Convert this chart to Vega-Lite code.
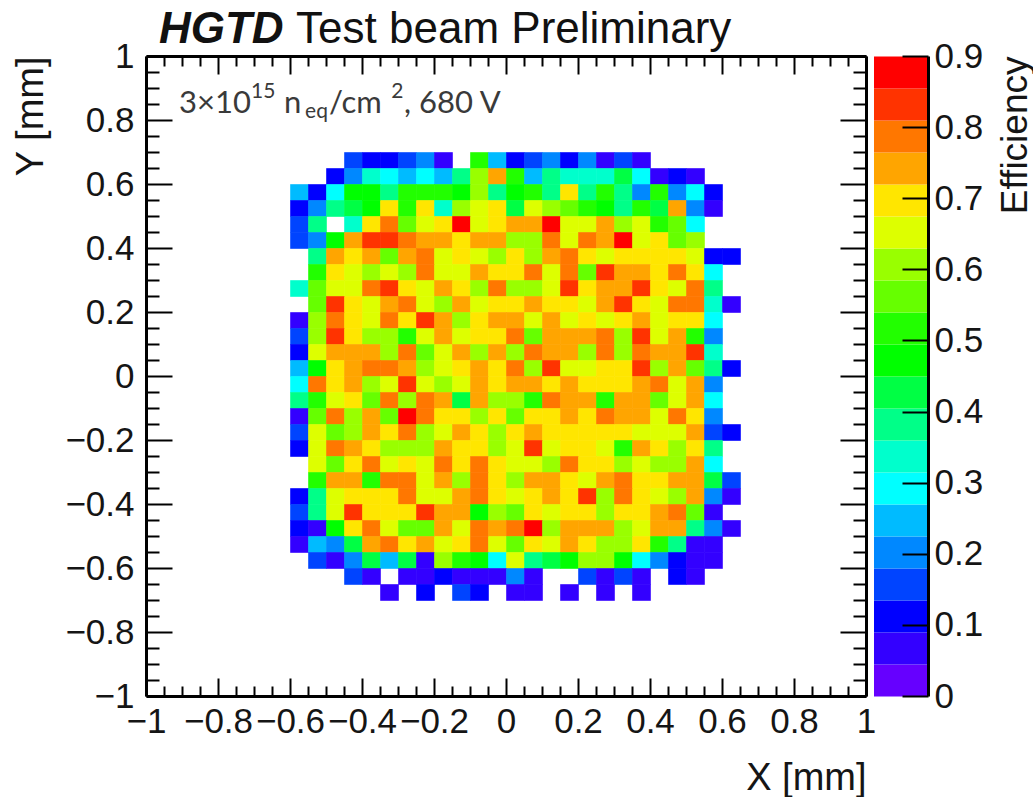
{"$schema":"https://vega.github.io/schema/vega-lite/v6.json","padding":{"left":12,"top":8,"right":0,"bottom":0},"spacing":8,"bounds":"flush","background":"white","config":{"view":{"stroke":null},"axis":{"labelFont":"Liberation Sans","titleFont":"Liberation Sans","labelFontSize":35,"titleFontSize":38,"titleFontWeight":"normal","labelColor":"#151515","titleColor":"#151515","domainColor":"#000","tickColor":"#000","grid":false,"labelOverlap":false,"labelFlush":false,"labelBound":false,"domainWidth":3,"tickWidth":2}},"hconcat":[{"width":720,"height":640,"resolve":{"axis":{"x":"independent","y":"independent"}},"layer":[{"data":{"values":[
{"x":-0.425,"y":0.675,"e":0.16},{"x":-0.375,"y":0.675,"e":0.11},{"x":-0.325,"y":0.675,"e":0.11},{"x":-0.275,"y":0.675,"e":0.16},{"x":-0.225,"y":0.675,"e":0.2},{"x":-0.175,"y":0.675,"e":0.07},{"x":-0.075,"y":0.675,"e":0.52},{"x":-0.025,"y":0.675,"e":0.25},{"x":0.025,"y":0.675,"e":0.11},{"x":0.075,"y":0.675,"e":0.16},{"x":0.125,"y":0.675,"e":0.2},{"x":0.175,"y":0.675,"e":0.11},{"x":0.225,"y":0.675,"e":0.2},{"x":0.275,"y":0.675,"e":0.07},{"x":0.325,"y":0.675,"e":0.16},{"x":0.375,"y":0.675,"e":0.07},
{"x":-0.475,"y":0.625,"e":0.11},{"x":-0.425,"y":0.625,"e":0.2},{"x":-0.375,"y":0.625,"e":0.34},{"x":-0.325,"y":0.625,"e":0.29},{"x":-0.275,"y":0.625,"e":0.25},{"x":-0.225,"y":0.625,"e":0.29},{"x":-0.175,"y":0.625,"e":0.25},{"x":-0.125,"y":0.625,"e":0.38},{"x":-0.075,"y":0.625,"e":0.61},{"x":-0.025,"y":0.625,"e":0.74},{"x":0.025,"y":0.625,"e":0.52},{"x":0.075,"y":0.625,"e":0.25},{"x":0.125,"y":0.625,"e":0.38},{"x":0.175,"y":0.625,"e":0.34},{"x":0.225,"y":0.625,"e":0.34},{"x":0.275,"y":0.625,"e":0.34},{"x":0.325,"y":0.625,"e":0.43},{"x":0.375,"y":0.625,"e":0.29},{"x":0.425,"y":0.625,"e":0.07},{"x":0.475,"y":0.625,"e":0.11},{"x":0.525,"y":0.625,"e":0.07},
{"x":-0.575,"y":0.575,"e":0.25},{"x":-0.525,"y":0.575,"e":0.11},{"x":-0.475,"y":0.575,"e":0.29},{"x":-0.425,"y":0.575,"e":0.47},{"x":-0.375,"y":0.575,"e":0.47},{"x":-0.325,"y":0.575,"e":0.38},{"x":-0.275,"y":0.575,"e":0.52},{"x":-0.225,"y":0.575,"e":0.52},{"x":-0.175,"y":0.575,"e":0.52},{"x":-0.125,"y":0.575,"e":0.47},{"x":-0.075,"y":0.575,"e":0.61},{"x":-0.025,"y":0.575,"e":0.38},{"x":0.025,"y":0.575,"e":0.47},{"x":0.075,"y":0.575,"e":0.52},{"x":0.125,"y":0.575,"e":0.38},{"x":0.175,"y":0.575,"e":0.7},{"x":0.225,"y":0.575,"e":0.38},{"x":0.275,"y":0.575,"e":0.52},{"x":0.325,"y":0.575,"e":0.38},{"x":0.375,"y":0.575,"e":0.2},{"x":0.425,"y":0.575,"e":0.52},{"x":0.475,"y":0.575,"e":0.2},{"x":0.525,"y":0.575,"e":0.29},{"x":0.575,"y":0.575,"e":0.11},
{"x":-0.575,"y":0.525,"e":0.11},{"x":-0.525,"y":0.525,"e":0.2},{"x":-0.475,"y":0.525,"e":0.38},{"x":-0.425,"y":0.525,"e":0.43},{"x":-0.375,"y":0.525,"e":0.47},{"x":-0.325,"y":0.525,"e":0.7},{"x":-0.275,"y":0.525,"e":0.52},{"x":-0.225,"y":0.525,"e":0.7},{"x":-0.175,"y":0.525,"e":0.34},{"x":-0.125,"y":0.525,"e":0.61},{"x":-0.075,"y":0.525,"e":0.65},{"x":-0.025,"y":0.525,"e":0.7},{"x":0.025,"y":0.525,"e":0.43},{"x":0.075,"y":0.525,"e":0.65},{"x":0.125,"y":0.525,"e":0.61},{"x":0.175,"y":0.525,"e":0.56},{"x":0.225,"y":0.525,"e":0.52},{"x":0.275,"y":0.525,"e":0.47},{"x":0.325,"y":0.525,"e":0.38},{"x":0.375,"y":0.525,"e":0.52},{"x":0.425,"y":0.525,"e":0.43},{"x":0.475,"y":0.525,"e":0.74},{"x":0.525,"y":0.525,"e":0.2},{"x":0.575,"y":0.525,"e":0.07},
{"x":-0.575,"y":0.475,"e":0.16},{"x":-0.525,"y":0.475,"e":0.38},{"x":-0.425,"y":0.475,"e":0.34},{"x":-0.375,"y":0.475,"e":0.7},{"x":-0.325,"y":0.475,"e":0.79},{"x":-0.275,"y":0.475,"e":0.56},{"x":-0.225,"y":0.475,"e":0.65},{"x":-0.175,"y":0.475,"e":0.7},{"x":-0.125,"y":0.475,"e":0.88},{"x":-0.075,"y":0.475,"e":0.65},{"x":-0.025,"y":0.475,"e":0.7},{"x":0.025,"y":0.475,"e":0.74},{"x":0.075,"y":0.475,"e":0.74},{"x":0.125,"y":0.475,"e":0.88},{"x":0.175,"y":0.475,"e":0.65},{"x":0.225,"y":0.475,"e":0.65},{"x":0.275,"y":0.475,"e":0.74},{"x":0.325,"y":0.475,"e":0.61},{"x":0.375,"y":0.475,"e":0.65},{"x":0.425,"y":0.475,"e":0.52},{"x":0.475,"y":0.475,"e":0.56},{"x":0.525,"y":0.475,"e":0.29},
{"x":-0.575,"y":0.425,"e":0.16},{"x":-0.525,"y":0.425,"e":0.2},{"x":-0.475,"y":0.425,"e":0.47},{"x":-0.425,"y":0.425,"e":0.74},{"x":-0.375,"y":0.425,"e":0.83},{"x":-0.325,"y":0.425,"e":0.83},{"x":-0.275,"y":0.425,"e":0.79},{"x":-0.225,"y":0.425,"e":0.74},{"x":-0.175,"y":0.425,"e":0.74},{"x":-0.125,"y":0.425,"e":0.7},{"x":-0.075,"y":0.425,"e":0.74},{"x":-0.025,"y":0.425,"e":0.74},{"x":0.025,"y":0.425,"e":0.61},{"x":0.075,"y":0.425,"e":0.61},{"x":0.125,"y":0.425,"e":0.79},{"x":0.175,"y":0.425,"e":0.65},{"x":0.225,"y":0.425,"e":0.79},{"x":0.275,"y":0.425,"e":0.74},{"x":0.325,"y":0.425,"e":0.88},{"x":0.375,"y":0.425,"e":0.65},{"x":0.425,"y":0.425,"e":0.7},{"x":0.475,"y":0.425,"e":0.56},{"x":0.525,"y":0.425,"e":0.61},
{"x":-0.525,"y":0.375,"e":0.38},{"x":-0.475,"y":0.375,"e":0.74},{"x":-0.425,"y":0.375,"e":0.7},{"x":-0.375,"y":0.375,"e":0.74},{"x":-0.325,"y":0.375,"e":0.56},{"x":-0.275,"y":0.375,"e":0.74},{"x":-0.225,"y":0.375,"e":0.79},{"x":-0.175,"y":0.375,"e":0.65},{"x":-0.125,"y":0.375,"e":0.7},{"x":-0.075,"y":0.375,"e":0.65},{"x":-0.025,"y":0.375,"e":0.61},{"x":0.025,"y":0.375,"e":0.7},{"x":0.075,"y":0.375,"e":0.61},{"x":0.125,"y":0.375,"e":0.74},{"x":0.175,"y":0.375,"e":0.79},{"x":0.225,"y":0.375,"e":0.7},{"x":0.275,"y":0.375,"e":0.65},{"x":0.325,"y":0.375,"e":0.7},{"x":0.375,"y":0.375,"e":0.7},{"x":0.425,"y":0.375,"e":0.7},{"x":0.475,"y":0.375,"e":0.7},{"x":0.525,"y":0.375,"e":0.65},{"x":0.575,"y":0.375,"e":0.11},{"x":0.625,"y":0.375,"e":0.11},
{"x":-0.525,"y":0.325,"e":0.52},{"x":-0.475,"y":0.325,"e":0.7},{"x":-0.425,"y":0.325,"e":0.65},{"x":-0.375,"y":0.325,"e":0.61},{"x":-0.325,"y":0.325,"e":0.65},{"x":-0.275,"y":0.325,"e":0.61},{"x":-0.225,"y":0.325,"e":0.79},{"x":-0.175,"y":0.325,"e":0.65},{"x":-0.125,"y":0.325,"e":0.65},{"x":-0.075,"y":0.325,"e":0.74},{"x":-0.025,"y":0.325,"e":0.7},{"x":0.025,"y":0.325,"e":0.7},{"x":0.075,"y":0.325,"e":0.79},{"x":0.125,"y":0.325,"e":0.65},{"x":0.175,"y":0.325,"e":0.79},{"x":0.225,"y":0.325,"e":0.56},{"x":0.275,"y":0.325,"e":0.83},{"x":0.325,"y":0.325,"e":0.74},{"x":0.375,"y":0.325,"e":0.74},{"x":0.425,"y":0.325,"e":0.7},{"x":0.475,"y":0.325,"e":0.79},{"x":0.525,"y":0.325,"e":0.7},{"x":0.575,"y":0.325,"e":0.29},
{"x":-0.575,"y":0.275,"e":0.34},{"x":-0.525,"y":0.275,"e":0.56},{"x":-0.475,"y":0.275,"e":0.65},{"x":-0.425,"y":0.275,"e":0.65},{"x":-0.375,"y":0.275,"e":0.79},{"x":-0.325,"y":0.275,"e":0.83},{"x":-0.275,"y":0.275,"e":0.7},{"x":-0.225,"y":0.275,"e":0.65},{"x":-0.175,"y":0.275,"e":0.74},{"x":-0.125,"y":0.275,"e":0.7},{"x":-0.075,"y":0.275,"e":0.61},{"x":-0.025,"y":0.275,"e":0.79},{"x":0.025,"y":0.275,"e":0.61},{"x":0.075,"y":0.275,"e":0.61},{"x":0.125,"y":0.275,"e":0.65},{"x":0.175,"y":0.275,"e":0.83},{"x":0.225,"y":0.275,"e":0.7},{"x":0.275,"y":0.275,"e":0.74},{"x":0.325,"y":0.275,"e":0.74},{"x":0.375,"y":0.275,"e":0.83},{"x":0.425,"y":0.275,"e":0.7},{"x":0.475,"y":0.275,"e":0.65},{"x":0.525,"y":0.275,"e":0.79},{"x":0.575,"y":0.275,"e":0.38},
{"x":-0.525,"y":0.225,"e":0.56},{"x":-0.475,"y":0.225,"e":0.83},{"x":-0.425,"y":0.225,"e":0.7},{"x":-0.375,"y":0.225,"e":0.65},{"x":-0.325,"y":0.225,"e":0.74},{"x":-0.275,"y":0.225,"e":0.79},{"x":-0.225,"y":0.225,"e":0.65},{"x":-0.175,"y":0.225,"e":0.61},{"x":-0.125,"y":0.225,"e":0.74},{"x":-0.075,"y":0.225,"e":0.65},{"x":-0.025,"y":0.225,"e":0.7},{"x":0.025,"y":0.225,"e":0.7},{"x":0.075,"y":0.225,"e":0.74},{"x":0.125,"y":0.225,"e":0.7},{"x":0.175,"y":0.225,"e":0.7},{"x":0.225,"y":0.225,"e":0.65},{"x":0.275,"y":0.225,"e":0.74},{"x":0.325,"y":0.225,"e":0.83},{"x":0.375,"y":0.225,"e":0.7},{"x":0.425,"y":0.225,"e":0.65},{"x":0.475,"y":0.225,"e":0.79},{"x":0.525,"y":0.225,"e":0.79},{"x":0.575,"y":0.225,"e":0.34},{"x":0.625,"y":0.225,"e":0.07},
{"x":-0.575,"y":0.175,"e":0.07},{"x":-0.525,"y":0.175,"e":0.61},{"x":-0.475,"y":0.175,"e":0.79},{"x":-0.425,"y":0.175,"e":0.7},{"x":-0.375,"y":0.175,"e":0.65},{"x":-0.325,"y":0.175,"e":0.79},{"x":-0.275,"y":0.175,"e":0.7},{"x":-0.225,"y":0.175,"e":0.83},{"x":-0.175,"y":0.175,"e":0.74},{"x":-0.125,"y":0.175,"e":0.61},{"x":-0.075,"y":0.175,"e":0.7},{"x":-0.025,"y":0.175,"e":0.74},{"x":0.025,"y":0.175,"e":0.74},{"x":0.075,"y":0.175,"e":0.65},{"x":0.125,"y":0.175,"e":0.74},{"x":0.175,"y":0.175,"e":0.65},{"x":0.225,"y":0.175,"e":0.7},{"x":0.275,"y":0.175,"e":0.65},{"x":0.325,"y":0.175,"e":0.7},{"x":0.375,"y":0.175,"e":0.74},{"x":0.425,"y":0.175,"e":0.65},{"x":0.475,"y":0.175,"e":0.7},{"x":0.525,"y":0.175,"e":0.7},{"x":0.575,"y":0.175,"e":0.29},
{"x":-0.575,"y":0.125,"e":0.16},{"x":-0.525,"y":0.125,"e":0.61},{"x":-0.475,"y":0.125,"e":0.83},{"x":-0.425,"y":0.125,"e":0.7},{"x":-0.375,"y":0.125,"e":0.61},{"x":-0.325,"y":0.125,"e":0.61},{"x":-0.275,"y":0.125,"e":0.52},{"x":-0.225,"y":0.125,"e":0.65},{"x":-0.175,"y":0.125,"e":0.74},{"x":-0.125,"y":0.125,"e":0.65},{"x":-0.075,"y":0.125,"e":0.7},{"x":-0.025,"y":0.125,"e":0.7},{"x":0.025,"y":0.125,"e":0.79},{"x":0.075,"y":0.125,"e":0.56},{"x":0.125,"y":0.125,"e":0.74},{"x":0.175,"y":0.125,"e":0.74},{"x":0.225,"y":0.125,"e":0.74},{"x":0.275,"y":0.125,"e":0.79},{"x":0.325,"y":0.125,"e":0.61},{"x":0.375,"y":0.125,"e":0.83},{"x":0.425,"y":0.125,"e":0.65},{"x":0.475,"y":0.125,"e":0.74},{"x":0.525,"y":0.125,"e":0.52},{"x":0.575,"y":0.125,"e":0.2},
{"x":-0.575,"y":0.075,"e":0.11},{"x":-0.525,"y":0.075,"e":0.65},{"x":-0.475,"y":0.075,"e":0.74},{"x":-0.425,"y":0.075,"e":0.74},{"x":-0.375,"y":0.075,"e":0.74},{"x":-0.325,"y":0.075,"e":0.61},{"x":-0.275,"y":0.075,"e":0.79},{"x":-0.225,"y":0.075,"e":0.56},{"x":-0.175,"y":0.075,"e":0.65},{"x":-0.125,"y":0.075,"e":0.74},{"x":-0.075,"y":0.075,"e":0.61},{"x":-0.025,"y":0.075,"e":0.74},{"x":0.025,"y":0.075,"e":0.61},{"x":0.075,"y":0.075,"e":0.79},{"x":0.125,"y":0.075,"e":0.74},{"x":0.175,"y":0.075,"e":0.74},{"x":0.225,"y":0.075,"e":0.61},{"x":0.275,"y":0.075,"e":0.79},{"x":0.325,"y":0.075,"e":0.61},{"x":0.375,"y":0.075,"e":0.79},{"x":0.425,"y":0.075,"e":0.74},{"x":0.475,"y":0.075,"e":0.74},{"x":0.525,"y":0.075,"e":0.83},{"x":0.575,"y":0.075,"e":0.34},
{"x":-0.575,"y":0.025,"e":0.25},{"x":-0.525,"y":0.025,"e":0.47},{"x":-0.475,"y":0.025,"e":0.7},{"x":-0.425,"y":0.025,"e":0.74},{"x":-0.375,"y":0.025,"e":0.79},{"x":-0.325,"y":0.025,"e":0.79},{"x":-0.275,"y":0.025,"e":0.74},{"x":-0.225,"y":0.025,"e":0.61},{"x":-0.175,"y":0.025,"e":0.65},{"x":-0.125,"y":0.025,"e":0.7},{"x":-0.075,"y":0.025,"e":0.74},{"x":-0.025,"y":0.025,"e":0.7},{"x":0.025,"y":0.025,"e":0.79},{"x":0.075,"y":0.025,"e":0.61},{"x":0.125,"y":0.025,"e":0.83},{"x":0.175,"y":0.025,"e":0.65},{"x":0.225,"y":0.025,"e":0.65},{"x":0.275,"y":0.025,"e":0.7},{"x":0.325,"y":0.025,"e":0.7},{"x":0.375,"y":0.025,"e":0.83},{"x":0.425,"y":0.025,"e":0.61},{"x":0.475,"y":0.025,"e":0.74},{"x":0.525,"y":0.025,"e":0.56},{"x":0.575,"y":0.025,"e":0.38},{"x":0.625,"y":0.025,"e":0.11},
{"x":-0.575,"y":-0.025,"e":0.29},{"x":-0.525,"y":-0.025,"e":0.79},{"x":-0.475,"y":-0.025,"e":0.7},{"x":-0.425,"y":-0.025,"e":0.74},{"x":-0.375,"y":-0.025,"e":0.61},{"x":-0.325,"y":-0.025,"e":0.65},{"x":-0.275,"y":-0.025,"e":0.83},{"x":-0.225,"y":-0.025,"e":0.65},{"x":-0.175,"y":-0.025,"e":0.61},{"x":-0.125,"y":-0.025,"e":0.65},{"x":-0.075,"y":-0.025,"e":0.74},{"x":-0.025,"y":-0.025,"e":0.7},{"x":0.025,"y":-0.025,"e":0.74},{"x":0.075,"y":-0.025,"e":0.74},{"x":0.125,"y":-0.025,"e":0.7},{"x":0.175,"y":-0.025,"e":0.74},{"x":0.225,"y":-0.025,"e":0.7},{"x":0.275,"y":-0.025,"e":0.7},{"x":0.325,"y":-0.025,"e":0.7},{"x":0.375,"y":-0.025,"e":0.74},{"x":0.425,"y":-0.025,"e":0.79},{"x":0.475,"y":-0.025,"e":0.65},{"x":0.525,"y":-0.025,"e":0.74},{"x":0.575,"y":-0.025,"e":0.2},
{"x":-0.575,"y":-0.075,"e":0.38},{"x":-0.525,"y":-0.075,"e":0.52},{"x":-0.475,"y":-0.075,"e":0.65},{"x":-0.425,"y":-0.075,"e":0.7},{"x":-0.375,"y":-0.075,"e":0.56},{"x":-0.325,"y":-0.075,"e":0.79},{"x":-0.275,"y":-0.075,"e":0.61},{"x":-0.225,"y":-0.075,"e":0.79},{"x":-0.175,"y":-0.075,"e":0.74},{"x":-0.125,"y":-0.075,"e":0.43},{"x":-0.075,"y":-0.075,"e":0.74},{"x":-0.025,"y":-0.075,"e":0.61},{"x":0.025,"y":-0.075,"e":0.61},{"x":0.075,"y":-0.075,"e":0.52},{"x":0.125,"y":-0.075,"e":0.79},{"x":0.175,"y":-0.075,"e":0.74},{"x":0.225,"y":-0.075,"e":0.74},{"x":0.275,"y":-0.075,"e":0.52},{"x":0.325,"y":-0.075,"e":0.74},{"x":0.375,"y":-0.075,"e":0.74},{"x":0.425,"y":-0.075,"e":0.56},{"x":0.475,"y":-0.075,"e":0.65},{"x":0.525,"y":-0.075,"e":0.74},{"x":0.575,"y":-0.075,"e":0.29},
{"x":-0.575,"y":-0.125,"e":0.07},{"x":-0.525,"y":-0.125,"e":0.56},{"x":-0.475,"y":-0.125,"e":0.79},{"x":-0.425,"y":-0.125,"e":0.61},{"x":-0.375,"y":-0.125,"e":0.74},{"x":-0.325,"y":-0.125,"e":0.56},{"x":-0.275,"y":-0.125,"e":0.88},{"x":-0.225,"y":-0.125,"e":0.79},{"x":-0.175,"y":-0.125,"e":0.7},{"x":-0.125,"y":-0.125,"e":0.7},{"x":-0.075,"y":-0.125,"e":0.61},{"x":-0.025,"y":-0.125,"e":0.7},{"x":0.025,"y":-0.125,"e":0.56},{"x":0.075,"y":-0.125,"e":0.7},{"x":0.125,"y":-0.125,"e":0.7},{"x":0.175,"y":-0.125,"e":0.74},{"x":0.225,"y":-0.125,"e":0.7},{"x":0.275,"y":-0.125,"e":0.79},{"x":0.325,"y":-0.125,"e":0.74},{"x":0.375,"y":-0.125,"e":0.74},{"x":0.425,"y":-0.125,"e":0.65},{"x":0.475,"y":-0.125,"e":0.79},{"x":0.525,"y":-0.125,"e":0.7},{"x":0.575,"y":-0.125,"e":0.2},
{"x":-0.575,"y":-0.175,"e":0.16},{"x":-0.525,"y":-0.175,"e":0.65},{"x":-0.475,"y":-0.175,"e":0.56},{"x":-0.425,"y":-0.175,"e":0.61},{"x":-0.375,"y":-0.175,"e":0.74},{"x":-0.325,"y":-0.175,"e":0.7},{"x":-0.275,"y":-0.175,"e":0.79},{"x":-0.225,"y":-0.175,"e":0.61},{"x":-0.175,"y":-0.175,"e":0.65},{"x":-0.125,"y":-0.175,"e":0.74},{"x":-0.075,"y":-0.175,"e":0.7},{"x":-0.025,"y":-0.175,"e":0.61},{"x":0.025,"y":-0.175,"e":0.7},{"x":0.075,"y":-0.175,"e":0.74},{"x":0.125,"y":-0.175,"e":0.7},{"x":0.175,"y":-0.175,"e":0.7},{"x":0.225,"y":-0.175,"e":0.7},{"x":0.275,"y":-0.175,"e":0.7},{"x":0.325,"y":-0.175,"e":0.7},{"x":0.375,"y":-0.175,"e":0.65},{"x":0.425,"y":-0.175,"e":0.65},{"x":0.475,"y":-0.175,"e":0.65},{"x":0.525,"y":-0.175,"e":0.74},{"x":0.575,"y":-0.175,"e":0.16},{"x":0.625,"y":-0.175,"e":0.11},
{"x":-0.575,"y":-0.225,"e":0.11},{"x":-0.525,"y":-0.225,"e":0.65},{"x":-0.475,"y":-0.225,"e":0.79},{"x":-0.425,"y":-0.225,"e":0.74},{"x":-0.375,"y":-0.225,"e":0.7},{"x":-0.325,"y":-0.225,"e":0.61},{"x":-0.275,"y":-0.225,"e":0.61},{"x":-0.225,"y":-0.225,"e":0.61},{"x":-0.175,"y":-0.225,"e":0.74},{"x":-0.125,"y":-0.225,"e":0.7},{"x":-0.075,"y":-0.225,"e":0.7},{"x":-0.025,"y":-0.225,"e":0.61},{"x":0.025,"y":-0.225,"e":0.65},{"x":0.075,"y":-0.225,"e":0.83},{"x":0.125,"y":-0.225,"e":0.65},{"x":0.175,"y":-0.225,"e":0.7},{"x":0.225,"y":-0.225,"e":0.7},{"x":0.275,"y":-0.225,"e":0.65},{"x":0.325,"y":-0.225,"e":0.52},{"x":0.375,"y":-0.225,"e":0.74},{"x":0.425,"y":-0.225,"e":0.7},{"x":0.475,"y":-0.225,"e":0.61},{"x":0.525,"y":-0.225,"e":0.7},{"x":0.575,"y":-0.225,"e":0.38},
{"x":-0.525,"y":-0.275,"e":0.65},{"x":-0.475,"y":-0.275,"e":0.56},{"x":-0.425,"y":-0.275,"e":0.7},{"x":-0.375,"y":-0.275,"e":0.79},{"x":-0.325,"y":-0.275,"e":0.65},{"x":-0.275,"y":-0.275,"e":0.7},{"x":-0.225,"y":-0.275,"e":0.65},{"x":-0.175,"y":-0.275,"e":0.79},{"x":-0.125,"y":-0.275,"e":0.7},{"x":-0.075,"y":-0.275,"e":0.79},{"x":-0.025,"y":-0.275,"e":0.7},{"x":0.025,"y":-0.275,"e":0.65},{"x":0.075,"y":-0.275,"e":0.65},{"x":0.125,"y":-0.275,"e":0.61},{"x":0.175,"y":-0.275,"e":0.79},{"x":0.225,"y":-0.275,"e":0.7},{"x":0.275,"y":-0.275,"e":0.7},{"x":0.325,"y":-0.275,"e":0.61},{"x":0.375,"y":-0.275,"e":0.65},{"x":0.425,"y":-0.275,"e":0.61},{"x":0.475,"y":-0.275,"e":0.61},{"x":0.525,"y":-0.275,"e":0.74},{"x":0.575,"y":-0.275,"e":0.29},
{"x":-0.525,"y":-0.325,"e":0.52},{"x":-0.475,"y":-0.325,"e":0.74},{"x":-0.425,"y":-0.325,"e":0.74},{"x":-0.375,"y":-0.325,"e":0.52},{"x":-0.325,"y":-0.325,"e":0.79},{"x":-0.275,"y":-0.325,"e":0.79},{"x":-0.225,"y":-0.325,"e":0.65},{"x":-0.175,"y":-0.325,"e":0.74},{"x":-0.125,"y":-0.325,"e":0.61},{"x":-0.075,"y":-0.325,"e":0.79},{"x":-0.025,"y":-0.325,"e":0.7},{"x":0.025,"y":-0.325,"e":0.61},{"x":0.075,"y":-0.325,"e":0.74},{"x":0.125,"y":-0.325,"e":0.74},{"x":0.175,"y":-0.325,"e":0.7},{"x":0.225,"y":-0.325,"e":0.65},{"x":0.275,"y":-0.325,"e":0.74},{"x":0.325,"y":-0.325,"e":0.79},{"x":0.375,"y":-0.325,"e":0.7},{"x":0.425,"y":-0.325,"e":0.7},{"x":0.475,"y":-0.325,"e":0.74},{"x":0.525,"y":-0.325,"e":0.74},{"x":0.575,"y":-0.325,"e":0.43},{"x":0.625,"y":-0.325,"e":0.16},
{"x":-0.575,"y":-0.375,"e":0.11},{"x":-0.525,"y":-0.375,"e":0.38},{"x":-0.475,"y":-0.375,"e":0.65},{"x":-0.425,"y":-0.375,"e":0.7},{"x":-0.375,"y":-0.375,"e":0.7},{"x":-0.325,"y":-0.375,"e":0.7},{"x":-0.275,"y":-0.375,"e":0.79},{"x":-0.225,"y":-0.375,"e":0.65},{"x":-0.175,"y":-0.375,"e":0.65},{"x":-0.125,"y":-0.375,"e":0.74},{"x":-0.075,"y":-0.375,"e":0.79},{"x":-0.025,"y":-0.375,"e":0.7},{"x":0.025,"y":-0.375,"e":0.65},{"x":0.075,"y":-0.375,"e":0.7},{"x":0.125,"y":-0.375,"e":0.74},{"x":0.175,"y":-0.375,"e":0.7},{"x":0.225,"y":-0.375,"e":0.83},{"x":0.275,"y":-0.375,"e":0.61},{"x":0.325,"y":-0.375,"e":0.79},{"x":0.375,"y":-0.375,"e":0.7},{"x":0.425,"y":-0.375,"e":0.65},{"x":0.475,"y":-0.375,"e":0.61},{"x":0.525,"y":-0.375,"e":0.74},{"x":0.575,"y":-0.375,"e":0.2},{"x":0.625,"y":-0.375,"e":0.07},
{"x":-0.575,"y":-0.425,"e":0.16},{"x":-0.525,"y":-0.425,"e":0.38},{"x":-0.475,"y":-0.425,"e":0.65},{"x":-0.425,"y":-0.425,"e":0.83},{"x":-0.375,"y":-0.425,"e":0.7},{"x":-0.325,"y":-0.425,"e":0.7},{"x":-0.275,"y":-0.425,"e":0.7},{"x":-0.225,"y":-0.425,"e":0.83},{"x":-0.175,"y":-0.425,"e":0.74},{"x":-0.125,"y":-0.425,"e":0.74},{"x":-0.075,"y":-0.425,"e":0.47},{"x":-0.025,"y":-0.425,"e":0.61},{"x":0.025,"y":-0.425,"e":0.56},{"x":0.075,"y":-0.425,"e":0.7},{"x":0.125,"y":-0.425,"e":0.65},{"x":0.175,"y":-0.425,"e":0.7},{"x":0.225,"y":-0.425,"e":0.7},{"x":0.275,"y":-0.425,"e":0.61},{"x":0.325,"y":-0.425,"e":0.7},{"x":0.375,"y":-0.425,"e":0.7},{"x":0.425,"y":-0.425,"e":0.74},{"x":0.475,"y":-0.425,"e":0.79},{"x":0.525,"y":-0.425,"e":0.56},{"x":0.575,"y":-0.425,"e":0.07},
{"x":-0.575,"y":-0.475,"e":0.11},{"x":-0.525,"y":-0.475,"e":0.07},{"x":-0.475,"y":-0.475,"e":0.47},{"x":-0.425,"y":-0.475,"e":0.7},{"x":-0.375,"y":-0.475,"e":0.79},{"x":-0.325,"y":-0.475,"e":0.65},{"x":-0.275,"y":-0.475,"e":0.56},{"x":-0.225,"y":-0.475,"e":0.56},{"x":-0.175,"y":-0.475,"e":0.74},{"x":-0.125,"y":-0.475,"e":0.65},{"x":-0.075,"y":-0.475,"e":0.79},{"x":-0.025,"y":-0.475,"e":0.74},{"x":0.025,"y":-0.475,"e":0.79},{"x":0.075,"y":-0.475,"e":0.88},{"x":0.125,"y":-0.475,"e":0.61},{"x":0.175,"y":-0.475,"e":0.74},{"x":0.225,"y":-0.475,"e":0.74},{"x":0.275,"y":-0.475,"e":0.74},{"x":0.325,"y":-0.475,"e":0.61},{"x":0.375,"y":-0.475,"e":0.65},{"x":0.425,"y":-0.475,"e":0.74},{"x":0.475,"y":-0.475,"e":0.74},{"x":0.525,"y":-0.475,"e":0.38},{"x":0.575,"y":-0.475,"e":0.2},{"x":0.625,"y":-0.475,"e":0.07},
{"x":-0.575,"y":-0.525,"e":0.07},{"x":-0.525,"y":-0.525,"e":0.25},{"x":-0.475,"y":-0.525,"e":0.2},{"x":-0.425,"y":-0.525,"e":0.43},{"x":-0.375,"y":-0.525,"e":0.74},{"x":-0.325,"y":-0.525,"e":0.79},{"x":-0.275,"y":-0.525,"e":0.7},{"x":-0.225,"y":-0.525,"e":0.74},{"x":-0.175,"y":-0.525,"e":0.65},{"x":-0.125,"y":-0.525,"e":0.7},{"x":-0.075,"y":-0.525,"e":0.79},{"x":-0.025,"y":-0.525,"e":0.65},{"x":0.025,"y":-0.525,"e":0.56},{"x":0.075,"y":-0.525,"e":0.7},{"x":0.125,"y":-0.525,"e":0.65},{"x":0.175,"y":-0.525,"e":0.74},{"x":0.225,"y":-0.525,"e":0.7},{"x":0.275,"y":-0.525,"e":0.61},{"x":0.325,"y":-0.525,"e":0.61},{"x":0.375,"y":-0.525,"e":0.7},{"x":0.425,"y":-0.525,"e":0.52},{"x":0.475,"y":-0.525,"e":0.38},{"x":0.525,"y":-0.525,"e":0.07},{"x":0.575,"y":-0.525,"e":0.07},
{"x":-0.525,"y":-0.575,"e":0.16},{"x":-0.475,"y":-0.575,"e":0.07},{"x":-0.425,"y":-0.575,"e":0.2},{"x":-0.375,"y":-0.575,"e":0.43},{"x":-0.325,"y":-0.575,"e":0.25},{"x":-0.275,"y":-0.575,"e":0.43},{"x":-0.225,"y":-0.575,"e":0.07},{"x":-0.175,"y":-0.575,"e":0.61},{"x":-0.125,"y":-0.575,"e":0.52},{"x":-0.075,"y":-0.575,"e":0.47},{"x":-0.025,"y":-0.575,"e":0.29},{"x":0.025,"y":-0.575,"e":0.65},{"x":0.075,"y":-0.575,"e":0.38},{"x":0.125,"y":-0.575,"e":0.43},{"x":0.175,"y":-0.575,"e":0.47},{"x":0.225,"y":-0.575,"e":0.61},{"x":0.275,"y":-0.575,"e":0.61},{"x":0.325,"y":-0.575,"e":0.47},{"x":0.375,"y":-0.575,"e":0.29},{"x":0.425,"y":-0.575,"e":0.2},{"x":0.475,"y":-0.575,"e":0.11},{"x":0.525,"y":-0.575,"e":0.07},{"x":0.575,"y":-0.575,"e":0.07},
{"x":-0.425,"y":-0.625,"e":0.16},{"x":-0.375,"y":-0.625,"e":0.07},{"x":-0.275,"y":-0.625,"e":0.07},{"x":-0.225,"y":-0.625,"e":0.07},{"x":-0.175,"y":-0.625,"e":0.11},{"x":-0.125,"y":-0.625,"e":0.07},{"x":-0.075,"y":-0.625,"e":0.07},{"x":-0.025,"y":-0.625,"e":0.07},{"x":0.025,"y":-0.625,"e":0.2},{"x":0.075,"y":-0.625,"e":0.07},{"x":0.225,"y":-0.625,"e":0.16},{"x":0.275,"y":-0.625,"e":0.07},{"x":0.325,"y":-0.625,"e":0.16},{"x":0.375,"y":-0.625,"e":0.07},{"x":0.475,"y":-0.625,"e":0.11},{"x":0.525,"y":-0.625,"e":0.07},
{"x":-0.325,"y":-0.675,"e":0.07},{"x":-0.225,"y":-0.675,"e":0.11},{"x":-0.125,"y":-0.675,"e":0.16},{"x":-0.075,"y":-0.675,"e":0.11},{"x":0.025,"y":-0.675,"e":0.07},{"x":0.075,"y":-0.675,"e":0.07},{"x":0.175,"y":-0.675,"e":0.07},{"x":0.275,"y":-0.675,"e":0.07},{"x":0.375,"y":-0.675,"e":0.07}
]},"mark":{"type":"rect","strokeWidth":0.6},"encoding":{"x":{"field":"x","type":"quantitative","bin":{"extent":[-1,1],"step":0.05},"scale":{"domain":[-1,1],"nice":false},"axis":{"orient":"bottom","values":[-1,-0.8,-0.6,-0.4,-0.2,0,0.2,0.4,0.6,0.8,1],"format":"~g","tickSize":-18,"labelPadding":26,"title":"X [mm]","titleAnchor":"end","titlePadding":20}},"y":{"field":"y","type":"quantitative","bin":{"extent":[-1,1],"step":0.05},"scale":{"domain":[-1,1],"nice":false},"axis":{"orient":"left","values":[-1,-0.8,-0.6,-0.4,-0.2,0,0.2,0.4,0.6,0.8,1],"format":"~g","tickSize":-26,"labelPadding":38,"title":"Y [mm]","titleAnchor":"end","titlePadding":14}},"color":{"field":"e","type":"quantitative","legend":null,"scale":{"type":"quantize","domain":[0,0.9],"range":["#6600ff","#3300ff","#0000ff","#0044ff","#0088ff","#00bbff","#00ffff","#00ffcc","#00ff88","#00ff44","#00ff00","#22ff00","#66ff00","#99ff00","#ddff00","#ffe600","#ffa500","#ff7700","#ff3300","#ff0000"]}},"stroke":{"field":"e","type":"quantitative","legend":null,"scale":{"type":"quantize","domain":[0,0.9],"range":["#6600ff","#3300ff","#0000ff","#0044ff","#0088ff","#00bbff","#00ffff","#00ffcc","#00ff88","#00ff44","#00ff00","#22ff00","#66ff00","#99ff00","#ddff00","#ffe600","#ffa500","#ff7700","#ff3300","#ff0000"]}}}},
{"data":{"values":[{"x":-0.964,"y":1.04,"t":"HGTD"}]},"mark":{"type":"text","align":"left","baseline":"alphabetic","font":"Liberation Sans","fontWeight":"bold","fontStyle":"italic","fontSize":44,"color":"#111"},"encoding":{"x":{"field":"x","type":"quantitative","scale":{"domain":[-1,1],"nice":false},"axis":{"orient":"top","values":[-1,-0.8,-0.6,-0.4,-0.2,0,0.2,0.4,0.6,0.8,1],"tickSize":-18,"labels":false,"title":null}},"y":{"field":"y","type":"quantitative","scale":{"domain":[-1,1],"nice":false},"axis":{"orient":"right","values":[-1,-0.8,-0.6,-0.4,-0.2,0,0.2,0.4,0.6,0.8,1],"tickSize":-26,"labels":false,"title":null}},"text":{"field":"t"}}},
{"data":{"values":[{"x":-0.583,"y":1.04,"t":"Test beam Preliminary"}]},"mark":{"type":"text","align":"left","baseline":"alphabetic","font":"Liberation Sans","fontSize":44,"color":"#111"},"encoding":{"x":{"field":"x","type":"quantitative","scale":{"domain":[-1,1],"nice":false},"axis":{"orient":"bottom","values":[-0.95,-0.9,-0.85,-0.75,-0.7,-0.65,-0.55,-0.5,-0.45,-0.35,-0.3,-0.25,-0.15,-0.1,-0.05,0.05,0.1,0.15,0.25,0.3,0.35,0.45,0.5,0.55,0.65,0.7,0.75,0.85,0.9,0.95],"tickSize":-10,"labels":false,"domain":false,"title":null}},"y":{"field":"y","type":"quantitative","scale":{"domain":[-1,1],"nice":false},"axis":{"orient":"left","values":[-0.95,-0.9,-0.85,-0.75,-0.7,-0.65,-0.55,-0.5,-0.45,-0.35,-0.3,-0.25,-0.15,-0.1,-0.05,0.05,0.1,0.15,0.25,0.3,0.35,0.45,0.5,0.55,0.65,0.7,0.75,0.85,0.9,0.95],"tickSize":-13,"labels":false,"domain":false,"title":null}},"text":{"field":"t"}}},
{"data":{"values":[{"x":-0.908,"y":0.822,"t":"3×10"},{"x":-0.617,"y":0.822,"t":"n"},{"x":-0.492,"y":0.822,"t":"/cm"},{"x":-0.283,"y":0.822,"t":", 680 V"}]},"mark":{"type":"text","align":"left","baseline":"alphabetic","font":"Lato","fontSize":31,"color":"#3a3a3a"},"encoding":{"x":{"field":"x","type":"quantitative","scale":{"domain":[-1,1],"nice":false},"axis":{"orient":"top","values":[-0.95,-0.9,-0.85,-0.75,-0.7,-0.65,-0.55,-0.5,-0.45,-0.35,-0.3,-0.25,-0.15,-0.1,-0.05,0.05,0.1,0.15,0.25,0.3,0.35,0.45,0.5,0.55,0.65,0.7,0.75,0.85,0.9,0.95],"tickSize":-10,"labels":false,"domain":false,"title":null}},"y":{"field":"y","type":"quantitative","scale":{"domain":[-1,1],"nice":false},"axis":{"orient":"right","values":[-0.95,-0.9,-0.85,-0.75,-0.7,-0.65,-0.55,-0.5,-0.45,-0.35,-0.3,-0.25,-0.15,-0.1,-0.05,0.05,0.1,0.15,0.25,0.3,0.35,0.45,0.5,0.55,0.65,0.7,0.75,0.85,0.9,0.95],"tickSize":-13,"labels":false,"domain":false,"title":null}},"text":{"field":"t"}}},
{"data":{"values":[{"x":-0.708,"y":0.869,"t":"15"},{"x":-0.558,"y":0.807,"t":"eq"},{"x":-0.319,"y":0.869,"t":"2"}]},"mark":{"type":"text","align":"left","baseline":"alphabetic","font":"Lato","fontSize":21,"color":"#3a3a3a"},"encoding":{"x":{"field":"x","type":"quantitative","scale":{"domain":[-1,1],"nice":false},"axis":null},"y":{"field":"y","type":"quantitative","scale":{"domain":[-1,1],"nice":false},"axis":null},"text":{"field":"t"}}}
]},
{"width":54,"height":640,"data":{"values":[{"e":0.0225},{"e":0.0675},{"e":0.1125},{"e":0.1575},{"e":0.2025},{"e":0.2475},{"e":0.2925},{"e":0.3375},{"e":0.3825},{"e":0.4275},{"e":0.4725},{"e":0.5175},{"e":0.5625},{"e":0.6075},{"e":0.6525},{"e":0.6975},{"e":0.7425},{"e":0.7875},{"e":0.8325},{"e":0.8775}]},"mark":{"type":"rect"},"encoding":{"y":{"field":"e","type":"quantitative","bin":{"extent":[0,0.9],"step":0.045},"scale":{"domain":[0,0.9],"nice":false},"axis":{"orient":"right","values":[0,0.1,0.2,0.3,0.4,0.5,0.6,0.7,0.8,0.9],"format":"~g","tickSize":-26,"labelPadding":32,"title":"Efficiency","titleAngle":270,"titleAnchor":"end","titleFontSize":37,"titleX":106}},"color":{"field":"e","type":"quantitative","legend":null,"scale":{"type":"quantize","domain":[0,0.9],"range":["#6600ff","#3300ff","#0000ff","#0044ff","#0088ff","#00bbff","#00ffff","#00ffcc","#00ff88","#00ff44","#00ff00","#22ff00","#66ff00","#99ff00","#ddff00","#ffe600","#ffa500","#ff7700","#ff3300","#ff0000"]}}}}
]}
